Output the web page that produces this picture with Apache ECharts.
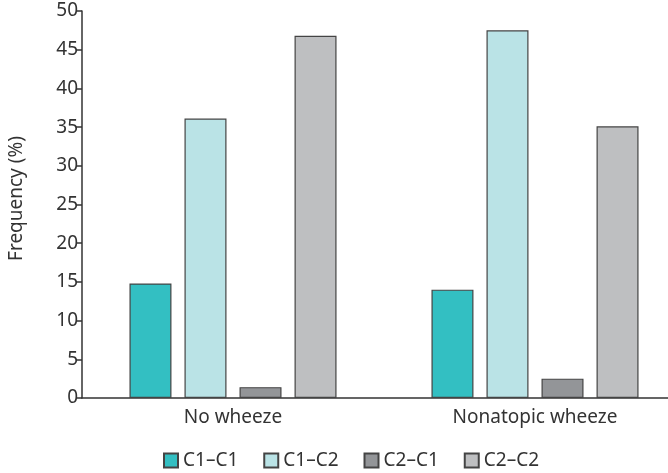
<!DOCTYPE html>
<html><head><meta charset="utf-8">
<script src="https://cdn.jsdelivr.net/npm/echarts@6/dist/echarts.min.js"></script>
<style>html,body{margin:0;padding:0;background:#fff}#c{width:668px;height:473px}</style>
</head><body><div id="c"></div>
<script>
var categories = ['No wheeze', 'Nonatopic wheeze'];
var seriesNames = ['C1–C1', 'C1–C2', 'C2–C1', 'C2–C2'];
var c1c1 = [14.8, 14.0];
var c1c2 = [36.1, 47.5];
var c2c1 = [1.4, 2.5];
var c2c2 = [46.8, 35.1];
var yTicks = [0, 5, 10, 15, 20, 25, 30, 35, 40, 45, 50];
var colors = ['#33bfc2', '#bae3e6', '#939598', '#bebfc1'];
var values = [c1c1, c1c2, c2c1, c2c2];

var font = 'Noto Sans';
var chart = echarts.init(document.getElementById('c'));
chart.setOption({
  animation: false,
  grid: {left: 82, width: 604, top: 11, bottom: 75, containLabel: false, outerBoundsMode: 'none'},
  legend: {
    top: 446, left: 158, itemWidth: 14, itemHeight: 14, itemGap: 25,
    icon: 'rect',
    textStyle: {fontFamily: font, fontSize: 19, color: '#333'},
    data: seriesNames
  },
  xAxis: {
    type: 'category', data: categories,
    axisLine: {lineStyle: {color: '#333', width: 1.5}},
    axisTick: {alignWithLabel: true, length: 7, lineStyle: {color: '#333', width: 1.5}, interval: 0},
    axisLabel: {fontFamily: font, fontSize: 19, color: '#333', margin: 10}
  },
  yAxis: {
    type: 'value', min: yTicks[0], max: yTicks[yTicks.length - 1], interval: 5,
    name: 'Frequency (%)', nameLocation: 'middle', nameGap: 56,
    nameTextStyle: {fontFamily: font, fontSize: 19, color: '#333', padding: [0, 0, 0, 12]},
    axisLine: {show: true, lineStyle: {color: '#333', width: 1.5}},
    axisTick: {show: true, length: 6, lineStyle: {color: '#333', width: 1.5}},
    splitLine: {show: false},
    axisLabel: {fontFamily: font, fontSize: 19, color: '#333', margin: 4}
  },
  series: seriesNames.map(function (n, i) {
    return {
      name: n, type: 'bar', data: values[i], barWidth: 42, barGap: '31%',
      itemStyle: {color: colors[i], borderColor: '#444', borderWidth: 1.2}
    };
  })
});
</script></body></html>
